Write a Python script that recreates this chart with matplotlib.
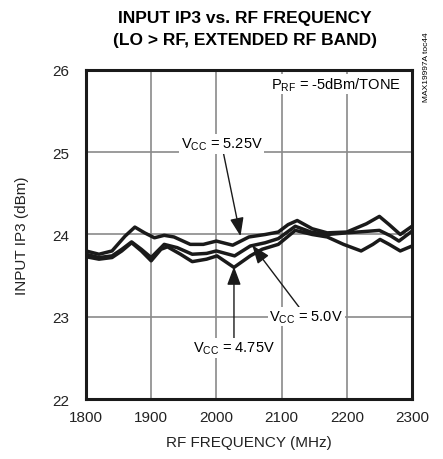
import matplotlib
matplotlib.use("Agg")
import matplotlib.pyplot as plt

plt.rcParams['font.family'] = ['Liberation Sans', 'DejaVu Sans']
plt.rcParams['mathtext.default'] = 'regular'

# ---- data ----
f_525 = [1800, 1820, 1840, 1860, 1875, 1890, 1905, 1920, 1935, 1960, 1980, 2000, 2025,
         2050, 2075, 2095, 2110, 2124, 2147, 2170, 2200, 2230, 2250, 2265, 2282, 2300]
ip3_525 = [23.80, 23.76, 23.80, 23.98, 24.09, 24.02, 23.96, 23.99, 23.97, 23.88, 23.88, 23.92, 23.87,
           23.97, 24.00, 24.03, 24.12, 24.17, 24.07, 24.02, 24.03, 24.13, 24.22, 24.12, 24.00, 24.10]

f_500 = [1800, 1820, 1840, 1855, 1870, 1885, 1900, 1920, 1940, 1963, 1985, 2000, 2028,
         2052, 2075, 2095, 2121, 2145, 2170, 2200, 2250, 2268, 2280, 2300]
ip3_500 = [23.76, 23.72, 23.74, 23.82, 23.91, 23.82, 23.72, 23.88, 23.84, 23.76, 23.77, 23.80, 23.74,
           23.86, 23.90, 23.95, 24.10, 24.03, 24.00, 24.02, 24.05, 23.98, 23.92, 24.04]

f_475 = [1800, 1820, 1840, 1855, 1870, 1885, 1900, 1915, 1925, 1945, 1963, 1985, 2001, 2027,
         2052, 2070, 2095, 2121, 2147, 2170, 2195, 2222, 2240, 2251, 2265, 2282, 2300]
ip3_475 = [23.73, 23.70, 23.72, 23.80, 23.90, 23.80, 23.68, 23.82, 23.85, 23.76, 23.67, 23.70, 23.74, 23.60,
           23.74, 23.82, 23.88, 24.05, 24.00, 23.97, 23.88, 23.80, 23.88, 23.94, 23.88, 23.80, 23.86]

x_ticks = [1800, 1900, 2000, 2100, 2200, 2300]
y_ticks = [22, 23, 24, 25, 26]

fig = plt.figure(figsize=(4.43, 4.60), dpi=100)
ax = fig.add_axes([0.194, 0.1304, 0.736, 0.7153])

for f, v in [(f_525, ip3_525), (f_500, ip3_500), (f_475, ip3_475)]:
    ax.plot(f, v, color='#1a1a1a', lw=2.5, solid_joinstyle='round', solid_capstyle='round', zorder=3)

ax.set_xlim(1800, 2300)
ax.set_ylim(22, 26)
ax.set_xticks(x_ticks)
ax.set_yticks(y_ticks)
ax.tick_params(length=0, labelsize=11, colors='#222222')
ax.tick_params(axis='y', pad=12)
ax.tick_params(axis='x', pad=8)
ax.grid(True, color='#8a8a8a', lw=1.2)
ax.set_axisbelow(True)
for s in ax.spines.values():
    s.set_linewidth(2.2)
    s.set_color('#1a1a1a')

ax.set_xlabel('RF FREQUENCY (MHz)', fontsize=11, labelpad=8, color='#222222')
ax.set_ylabel('INPUT IP3 (dBm)', fontsize=11, labelpad=17, color='#222222')

fig.text(0.553, 0.960, 'INPUT IP3 vs. RF FREQUENCY', ha='center', va='center',
         fontsize=12.5, fontweight='bold')
fig.text(0.553, 0.912, '(LO > RF, EXTENDED RF BAND)', ha='center', va='center',
         fontsize=12.5, fontweight='bold')

ax.text(2283, 25.83, '$P_{RF}$ = -5dBm/TONE', ha='right', va='center', fontsize=10.5,
        bbox=dict(facecolor='white', edgecolor='none', pad=1), zorder=4)
fig.text(0.962, 0.93, 'MAX19997A toc44', rotation=90, ha='center', va='top', fontsize=6)

arrow = dict(arrowstyle='-|>,head_length=0.8,head_width=0.3', color='#1a1a1a', lw=1.0,
             mutation_scale=14, shrinkA=0, shrinkB=0)
box = dict(facecolor='white', edgecolor='none', pad=1)
ax.annotate('$V_{CC}$ = 5.25V', xy=(2037, 23.98), xytext=(2008, 25.0),
            ha='center', va='bottom', fontsize=10.5, bbox=box, zorder=5,
            arrowprops=arrow)
ax.annotate('$V_{CC}$ = 5.0V', xy=(2055, 23.87), xytext=(2138, 23.0),
            ha='center', va='center', fontsize=10.5, bbox=box, zorder=5,
            arrowprops=arrow)
ax.annotate('$V_{CC}$ = 4.75V', xy=(2027, 23.61), xytext=(2027, 22.62),
            ha='center', va='center', fontsize=10.5, bbox=box, zorder=5,
            arrowprops=arrow)

fig.savefig('out.png', dpi=100)
